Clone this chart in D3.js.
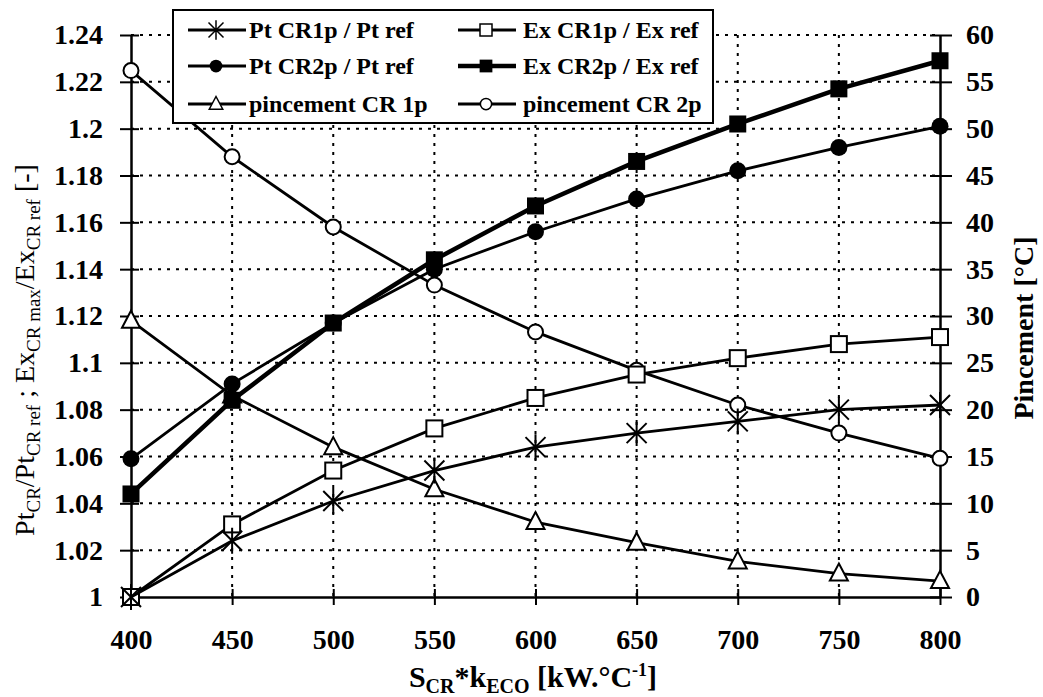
<!DOCTYPE html>
<html><head><meta charset="utf-8">
<script src="https://cdn.jsdelivr.net/npm/d3@7/dist/d3.min.js"></script>
<style>body{margin:0;background:#fff}svg{display:block}</style>
</head><body>
<svg id="c" width="1043" height="697"></svg>
<script>
const xValues = [400,450,500,550,600,650,700,750,800];
const ptCR1p = [1.000,1.024,1.041,1.054,1.064,1.070,1.075,1.080,1.082];
const exCR1p = [1.000,1.031,1.054,1.072,1.085,1.095,1.102,1.108,1.111];
const ptCR2p = [1.059,1.091,1.117,1.140,1.156,1.170,1.182,1.192,1.201];
const exCR2p = [1.044,1.084,1.117,1.144,1.167,1.186,1.202,1.217,1.229];
const pincCR1p = [29.5,21.5,16.0,11.5,8.0,5.8,3.8,2.5,1.7];
const pincCR2p = [56.2,47.0,39.5,33.3,28.3,24.2,20.5,17.5,14.8];
const leftTicks = [1,1.02,1.04,1.06,1.08,1.1,1.12,1.14,1.16,1.18,1.2,1.22,1.24];
const rightTicks = [0,5,10,15,20,25,30,35,40,45,50,55,60];
const xTicks = [400,450,500,550,600,650,700,750,800];
const legendNames = ["Pt CR1p / Pt ref","Ex CR1p / Ex ref","Pt CR2p / Pt ref","Ex CR2p / Ex ref","pincement CR 1p","pincement CR 2p"];

const svg = d3.select("#c");
const L=131, R=940, T=35, B=597;
const x = d3.scaleLinear().domain([400,800]).range([L,R]);
const yL = d3.scaleLinear().domain([1,1.24]).range([B,T]);
const yR = d3.scaleLinear().domain([0,60]).range([B,T]);
const font = "Liberation Serif";

// grid
const g = svg.append("g");
g.selectAll(".hg").data(leftTicks.slice(1)).enter().append("line")
 .attr("x1",L).attr("x2",R).attr("y1",d=>yL(d)).attr("y2",d=>yL(d))
 .attr("stroke","#000").attr("stroke-width",2).attr("stroke-dasharray","3,6");
g.selectAll(".vg").data(xTicks.slice(1,-1)).enter().append("line")
 .attr("y1",T).attr("y2",B).attr("x1",d=>x(d)).attr("x2",d=>x(d))
 .attr("stroke","#000").attr("stroke-width",2).attr("stroke-dasharray","3,6");

// axes
const axL = d3.axisLeft(yL).tickValues(leftTicks).tickFormat(d=>String(+d.toFixed(2))).tickSizeInner(11).tickSizeOuter(0).tickPadding(17);
const axR = d3.axisRight(yR).tickValues(rightTicks).tickSizeInner(12).tickSizeOuter(0).tickPadding(14);
const axB = d3.axisBottom(x).tickValues(xTicks).tickSizeInner(8).tickSizeOuter(0).tickPadding(24);
function style(sel){
  sel.attr("font-family",font);
  sel.selectAll("path").attr("stroke","#000").attr("stroke-width",2.5);
  sel.selectAll("line").attr("stroke","#000").attr("stroke-width",2);
  sel.selectAll("text").attr("font-family",font).attr("font-weight","bold").attr("font-size",28).attr("fill","#000");
}
const gL = svg.append("g").attr("transform",`translate(${L},0)`).call(axL); style(gL);
gL.selectAll(".tick line").attr("x2",-11).attr("x1",8);
const gR = svg.append("g").attr("transform",`translate(${R},0)`).call(axR); style(gR);
gR.selectAll(".tick line").attr("x1",-10).attr("x2",12);
const gB = svg.append("g").attr("transform",`translate(0,${B})`).call(axB); style(gB);
gB.selectAll(".tick line").attr("y1",-8).attr("y2",8);

// series
const series = [
 {vals:pincCR2p, s:yR, m:"circleO", w:2.8},
 {vals:pincCR1p, s:yR, m:"tri", w:2.8},
 {vals:exCR1p, s:yL, m:"squareO", w:2.8},
 {vals:ptCR1p, s:yL, m:"star", w:2.8},
 {vals:ptCR2p, s:yL, m:"circleF", w:2.8},
 {vals:exCR2p, s:yL, m:"squareF", w:4.5},
];
function marker(sel, type, cx, cy){
  const gg = sel.append("g").attr("transform",`translate(${cx},${cy})`);
  if(type==="circleO") gg.append("circle").attr("r",7.5).attr("fill","#fff").attr("stroke","#000").attr("stroke-width",2);
  if(type==="circleF") gg.append("circle").attr("r",8.5).attr("fill","#000");
  if(type==="squareO") gg.append("rect").attr("x",-8).attr("y",-8).attr("width",16).attr("height",16).attr("fill","#fff").attr("stroke","#000").attr("stroke-width",2);
  if(type==="squareF") gg.append("rect").attr("x",-8.5).attr("y",-8.5).attr("width",17).attr("height",17).attr("fill","#000");
  if(type==="tri") gg.append("path").attr("d","M0,-10L9,7L-9,7Z").attr("fill","#fff").attr("stroke","#000").attr("stroke-width",2);
  if(type==="star") gg.append("path").attr("d","M-10,-10L10,10M-10,10L10,-10M0,-13L0,13").attr("stroke","#000").attr("stroke-width",2);
}
series.forEach(sr=>{
  const line = d3.line().x((d,i)=>x(xValues[i])).y(d=>sr.s(d));
  svg.append("path").datum(sr.vals).attr("d",line).attr("fill","none").attr("stroke","#000").attr("stroke-width",sr.w);
  sr.vals.forEach((v,i)=>marker(svg, sr.m, x(xValues[i]), sr.s(v)));
});

// legend
const lg = svg.append("g");
lg.append("rect").attr("x",173).attr("y",10).attr("width",540).attr("height",113).attr("fill","#fff").attr("stroke","#000").attr("stroke-width",2);
const legMarks = ["star","squareO","circleF","squareF","tri","circleO"];
const legW = [2.8,2.8,2.8,4.5,2.8,2.8];
const rowY = [30,66,104];
legendNames.forEach((n,i)=>{
  const col=i%2, row=Math.floor(i/2);
  const x0 = col===0?188:458, yy = rowY[row];
  lg.append("line").attr("x1",x0).attr("x2",x0+58).attr("y1",yy).attr("y2",yy).attr("stroke","#000").attr("stroke-width",legW[i]);
  const gm = lg.append("g").attr("transform",`translate(${x0+28},${yy}) scale(0.75)`);
  marker(gm, legMarks[i], 0, 0);
  lg.append("text").attr("x",x0+(col===0?61:65)).attr("y",yy+8).attr("font-family",font).attr("font-weight","bold").attr("font-size",24).text(n);
});

// axis titles
const lt = svg.append("text").attr("transform","translate(34,350) rotate(-90)").attr("text-anchor","middle")
 .attr("font-family",font).attr("font-size",28);
[["Pt",0],["CR",1],["/Pt",0],["CR ref",1],[" ; Ex",0],["CR max",1],["/Ex",0],["CR ref",1],[" [-]",0]].forEach(([t,s],i,arr)=>{
  const prev = i>0?arr[i-1][1]:0;
  const dy = s&&!prev?6:(!s&&prev?-6:0);
  lt.append("tspan").attr("dy",dy).attr("font-size",s?19:28).text(t);
});
svg.append("text").attr("transform","translate(1033,328) rotate(-90)").attr("text-anchor","middle")
 .attr("font-family",font).attr("font-weight","bold").attr("font-size",28).text("Pincement [°C]");
const xt = svg.append("text").attr("x",533).attr("y",687).attr("text-anchor","middle").attr("font-family",font).attr("font-weight","bold").attr("font-size",30);
xt.append("tspan").text("S");
xt.append("tspan").attr("dy",6).attr("font-size",20).text("CR");
xt.append("tspan").attr("dy",-6).text("*k");
xt.append("tspan").attr("dy",6).attr("font-size",20).text("ECO");
xt.append("tspan").attr("dy",-6).text(" [kW.°C");
xt.append("tspan").attr("dy",-11).attr("font-size",18).text("-1");
xt.append("tspan").attr("dy",11).text("]");
</script>
</body></html>
